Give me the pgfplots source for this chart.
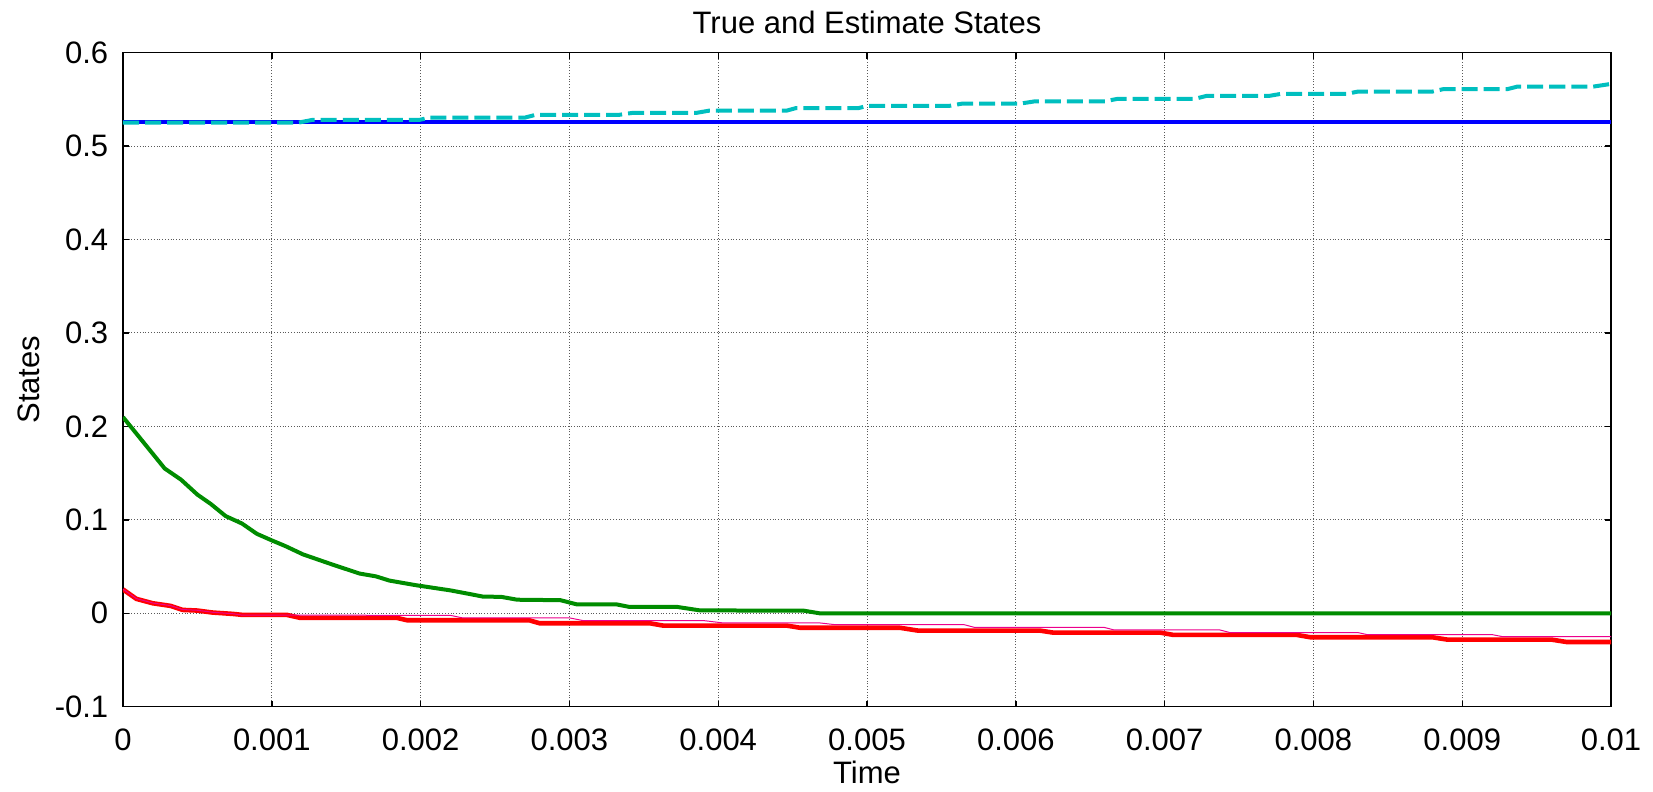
\documentclass[border=0pt]{standalone}
\usepackage{fontspec}
\setmainfont{Liberation Sans}
\usepackage{pgfplots}
\pgfplotsset{compat=1.18}
\definecolor{mgreen}{rgb}{0,0.55,0}
\definecolor{mcyan}{rgb}{0,0.75,0.75}
\begin{document}
\begin{tikzpicture}
\begin{axis}[name=ax, at={(0,0)}, anchor=south west,
  width=744pt, height=327pt, scale only axis,
  xmin=0, xmax=0.01, ymin=-0.1, ymax=0.6,
  scaled x ticks=false, scaled y ticks=false,
  xtick={0,0.001,0.002,0.003,0.004,0.005,0.006,0.007,0.008,0.009,0.01},
  xticklabels={0,0.001,0.002,0.003,0.004,0.005,0.006,0.007,0.008,0.009,0.01},
  ytick={-0.1,0,0.1,0.2,0.3,0.4,0.5,0.6},
  yticklabels={-0.1,0,0.1,0.2,0.3,0.4,0.5,0.6},
  tick align=inside, major tick length=3pt,
  tick style={black, line width=0.7pt},
  axis line style={line width=0.7pt},
  grid=major, major grid style={densely dotted, black!65, line width=0.5pt},
  every tick label/.append style={font=\fontsize{15.5}{18}\selectfont, inner sep=0pt},
  x tick label style={anchor=base, yshift=-22pt},
  y tick label style={anchor=east, xshift=-7.2pt},
  title={True and Estimate States},
  title style={font=\fontsize{15.5}{18}\selectfont, at={(axis description cs:0.5,1)}, anchor=base, yshift=3.4pt, inner sep=0pt},
  xlabel={Time},
  xlabel style={font=\fontsize{15.5}{18}\selectfont, at={(axis description cs:0.5,0)}, anchor=base, yshift=-38.5pt, inner sep=0pt},
  ylabel={States},
  ylabel style={font=\fontsize{15.5}{18}\selectfont, at={(axis description cs:-0.0558,0.5)}, anchor=base, inner sep=0pt},
  clip=true,
]
% blue true state
\addplot[blue, line width=2pt] coordinates {(0,0.5253) (0.01,0.5253)};
% cyan dashed estimate
\addplot[mcyan, line width=2pt, dash pattern=on 8pt off 3pt] coordinates {
(0,0.5252) (0.00118,0.5252) (0.00127,0.528) (0.00199,0.528) (0.00206,0.5305) (0.0027,0.5305) (0.00277,0.5334) (0.00333,0.5334) (0.00342,0.5355) (0.00385,0.5355) (0.00394,0.538) (0.00446,0.538) (0.00452,0.5406) (0.00494,0.5406) (0.005,0.543) (0.00555,0.543) (0.00564,0.5455) (0.00603,0.5455) (0.00613,0.548) (0.0066,0.548) (0.00668,0.5505) (0.0072,0.5505) (0.00728,0.5537) (0.0077,0.5537) (0.00778,0.5559) (0.00822,0.5559) (0.0083,0.5584) (0.0088,0.5584) (0.00887,0.5609) (0.0093,0.5609) (0.00937,0.5637) (0.00988,0.5637) (0.01,0.5666)};
% green
\addplot[mgreen, line width=2pt] coordinates {
(0,0.210) (0.00028,0.155) (0.00039,0.143) (0.0005,0.127) (0.00059,0.117) (0.00069,0.104) (0.0008,0.096) (0.0009,0.085) (0.001,0.078) (0.00109,0.072) (0.00121,0.063) (0.00141,0.052) (0.00159,0.0425) (0.0017,0.0395) (0.00179,0.035) (0.00197,0.030) (0.0022,0.0245) (0.00233,0.0206) (0.00242,0.0178) (0.00254,0.0176) (0.00265,0.0145) (0.00294,0.014) (0.00305,0.0095) (0.00332,0.0094) (0.0034,0.0069) (0.00372,0.0069) (0.00388,0.0030) (0.00457,0.0029) (0.00468,0.0) (0.01,0.0)};
% red
\addplot[red, line width=2.3pt] coordinates {
(0,0.0255) (0.00009,0.0154) (0.0002,0.0107) (0.00032,0.0079) (0.0004,0.0036) (0.0005,0.0029) (0.0006,0.0008) (0.00074,-0.0007) (0.0008,-0.0017) (0.0011,-0.0017) (0.00119,-0.0049) (0.00184,-0.0049) (0.00191,-0.0075) (0.00273,-0.0075) (0.0028,-0.0107) (0.00354,-0.0107) (0.00363,-0.0132) (0.00446,-0.0132) (0.00455,-0.0155) (0.00522,-0.0155) (0.00534,-0.0185) (0.00616,-0.0185) (0.00625,-0.0207) (0.00697,-0.0207) (0.00706,-0.0232) (0.00789,-0.0232) (0.00798,-0.0257) (0.0088,-0.0257) (0.0089,-0.0282) (0.0096,-0.0282) (0.0097,-0.0307) (0.01,-0.0307)};
% magenta
\addplot[magenta, line width=0.5pt] coordinates {
(0,0.0258) (0.00009,0.0157) (0.0002,0.011) (0.00032,0.0082) (0.0004,0.004) (0.0005,0.0032) (0.0006,0.0011) (0.00074,-0.0005) (0.0008,-0.002) (0.0022,-0.0022) (0.00228,-0.0049) (0.003,-0.0049) (0.00309,-0.0078) (0.0039,-0.0078) (0.00403,-0.0103) (0.00468,-0.0103) (0.00478,-0.0121) (0.00565,-0.0121) (0.00572,-0.015) (0.00659,-0.015) (0.00666,-0.0178) (0.00737,-0.0178) (0.00744,-0.0207) (0.0083,-0.0207) (0.00836,-0.0228) (0.0092,-0.0228) (0.00927,-0.025) (0.01,-0.025)};
\end{axis}
\pgfresetboundingbox
\path (-61.5pt,-42.2pt) rectangle (765pt,353.35pt);
\end{tikzpicture}
\end{document}
